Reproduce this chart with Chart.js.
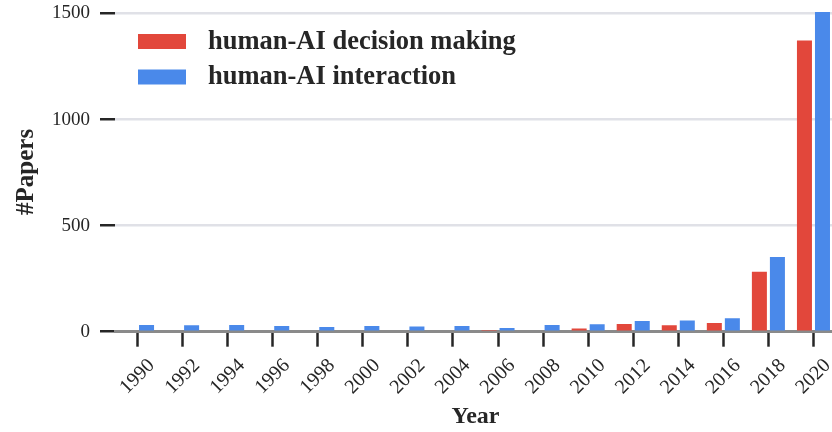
<!DOCTYPE html>
<html>
<head>
<meta charset="utf-8">
<script src="https://cdn.jsdelivr.net/npm/chart.js@4.4.1/dist/chart.umd.min.js"></script>
<style>
  html, body { margin: 0; padding: 0; background: #fff; overflow: hidden; }
  #wrap { width: 836px; height: 432px; }
</style>
</head>
<body>
<div id="wrap"><canvas id="papersChart"></canvas></div>
<script>
// years on the x axis
const years = ['1990', '1992', '1994', '1996', '1998', '2000', '2002', '2004',
  '2006', '2008', '2010', '2012', '2014', '2016', '2018', '2020'];

// number of papers per year
const decisionMaking = [0, 0, 0, 0, 0, 0, 0, 0, 3, 6, 15, 36, 30, 41, 283, 1373];
const interaction = [31, 30, 32, 27, 22, 27, 24, 27, 17, 31, 35, 50, 53, 63, 352, 1530];

const yTicks = [0, 500, 1000, 1500];

const SERIF = '"Liberation Serif", "DejaVu Serif", serif';
const TEXT = '#262626';

// legend drawn inside the plot area, top left
const insideLegend = {
  id: 'insideLegend',
  afterDraw(chart) {
    const { ctx, chartArea } = chart;
    ctx.save();
    ctx.font = `bold 26.5px ${SERIF}`;
    ctx.textBaseline = 'alphabetic';
    ctx.textAlign = 'left';
    chart.data.datasets.forEach((ds, i) => {
      const x = chartArea.left + 23;
      const y = chartArea.top + 22 + i * 35.5;
      ctx.fillStyle = ds.backgroundColor;
      ctx.fillRect(x, y, 48, 15);
      ctx.fillStyle = TEXT;
      ctx.fillText(ds.label, x + 70, y + 14.5);
    });
    ctx.restore();
  }
};

// rotated year labels, centred on their tick like the original
const yearLabels = {
  id: 'yearLabels',
  afterDraw(chart) {
    const { ctx, chartArea } = chart;
    const xs = chart.scales.x;
    ctx.save();
    ctx.font = `20px ${SERIF}`;
    ctx.fillStyle = TEXT;
    ctx.textAlign = 'center';
    ctx.textBaseline = 'middle';
    chart.data.labels.forEach((lab, i) => {
      ctx.save();
      ctx.translate(xs.getPixelForTick(i), chartArea.bottom + 45);
      ctx.rotate(-Math.PI / 4);
      ctx.fillText(lab, 0, 0);
      ctx.restore();
    });
    ctx.restore();
  }
};

const ctx = document.getElementById('papersChart').getContext('2d');
new Chart(ctx, {
  type: 'bar',
  data: {
    labels: years,
    datasets: [
      {
        label: 'human-AI decision making',
        data: decisionMaking,
        backgroundColor: '#e2473b',
        borderWidth: 0,
        categoryPercentage: 0.8,
        barPercentage: 0.833
      },
      {
        label: 'human-AI interaction',
        data: interaction,
        backgroundColor: '#4a89ea',
        borderWidth: 0,
        categoryPercentage: 0.8,
        barPercentage: 0.833
      }
    ]
  },
  options: {
    responsive: true,
    maintainAspectRatio: false,
    animation: false,
    layout: { padding: { top: 12, right: 0, left: 0, bottom: 0 } },
    plugins: {
      legend: { display: false },
      tooltip: { enabled: false }
    },
    scales: {
      x: {
        z: 1,
        offset: true,
        grid: {
          display: true,
          offset: false,
          drawOnChartArea: false,
          drawTicks: true,
          tickLength: 15,
          tickWidth: 2.5,
          tickColor: '#262626'
        },
        border: { display: true, color: '#8a8a8a', width: 3 },
        ticks: { display: false },
        title: {
          display: true,
          text: 'Year',
          color: TEXT,
          font: { family: SERIF, size: 24, weight: 'bold' },
          padding: { top: 0, bottom: 1 }
        },
        afterFit(scale) {
          scale.height = 100.3;
          scale.paddingLeft = 0;
          scale.paddingRight = 0;
        }
      },
      y: {
        min: 0,
        max: 1507,
        afterBuildTicks(scale) {
          scale.ticks = yTicks.map(v => ({ value: v }));
        },
        grid: {
          color: c => (c.tick && c.tick.value === 0 ? 'rgba(0,0,0,0)' : '#e0e1e7'),
          lineWidth: 2.5,
          drawTicks: true,
          tickLength: 15,
          tickWidth: 2.5,
          tickColor: '#262626'
        },
        border: { display: false },
        ticks: {
          color: TEXT,
          padding: 10,
          font: { family: SERIF, size: 19 },
          callback: v => String(v)
        },
        title: {
          display: true,
          text: '#Papers',
          color: TEXT,
          font: { family: SERIF, size: 25, weight: 'bold' },
          padding: { top: 12, bottom: 0 }
        },
        afterFit(scale) {
          scale.width = 115;
          scale.paddingTop = 0;
          scale.paddingBottom = 0;
        }
      }
    }
  },
  plugins: [insideLegend, yearLabels]
});
</script>
</body>
</html>
